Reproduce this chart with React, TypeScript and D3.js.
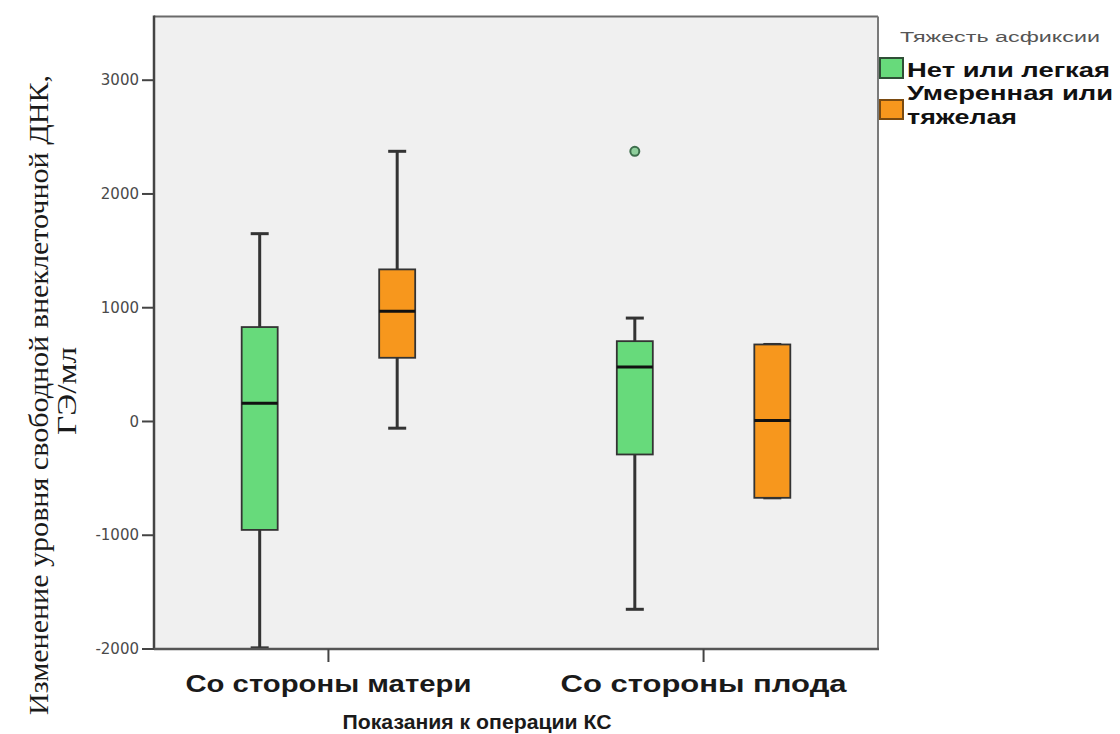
import React from "react";
import * as d3 from "d3";

const categories = ["Со стороны матери", "Со стороны плода"];
const seriesNames = ["Нет или легкая", "Умеренная или тяжелая"];
const seriesColors = ["#67DA7B", "#F7971D"];
const legendLines = [["Нет или легкая"], ["Умеренная или", "тяжелая"]];

// per series, per category
const whiskerMin = [[-1990, -1651], [-59, -671]];
const quart1 = [[-953, -290], [560, -671]];
const medians = [[161, 478], [968, 9]];
const quart3 = [[830, 706], [1337, 677]];
const whiskerMax = [[1651, 909], [2375, 677]];

const outlierCats = ["Со стороны плода"];
const outlierSeries = [0];
const outlierValues = [2375];

const yTicks = [-2000, -1000, 0, 1000, 2000, 3000];
const yTitle1 = "Изменение уровня свободной внеклеточной ДНК,";
const yTitle2 = "ГЭ/мл";
const xTitle = "Показания к операции КС";
const legendTitle = "Тяжесть асфиксии";

const W = 1120, H = 734;
const L = 154, R = 878, T = 16.5, B = 649;

export default function App() {
  const y = d3.scaleLinear().domain([-2000, 3560]).range([B, T]);
  const x = d3.scalePoint<string>().domain(categories).range([L, R]).padding(0.465);
  const sub = d3.scalePoint<string>().domain(seriesNames).range([-68.75, 68.75]);
  const boxW = 36;
  const capW = 18;
  const sans = "'Liberation Sans', Arial, sans-serif";

  const boxes: any[] = [];
  seriesNames.forEach((s, si) => {
    categories.forEach((c, ci) => {
      const cx = (x(c) as number) + (sub(s) as number);
      boxes.push({
        key: s + c, cx, color: seriesColors[si],
        lo: whiskerMin[si][ci], q1: quart1[si][ci], med: medians[si][ci],
        q3: quart3[si][ci], hi: whiskerMax[si][ci],
      });
    });
  });

  return (
    <svg width={W} height={H} style={{ position: "absolute", left: 0, top: 0, background: "#fff" }}
      fontFamily={sans}>
      <rect x={L} y={T} width={R - L} height={B - T} fill="#F0F0F0" />
      {/* frame */}
      <line x1={L} x2={R} y1={T} y2={T} stroke="#6a6a6a" strokeWidth={2} />
      <line x1={R} x2={R} y1={T} y2={B} stroke="#7a7a7a" strokeWidth={2} />

      {/* boxes */}
      {boxes.map((b) => (
        <g key={b.key}>
          <line x1={b.cx} x2={b.cx} y1={y(b.q3)} y2={y(b.hi)} stroke="#333" strokeWidth={3} />
          <line x1={b.cx} x2={b.cx} y1={y(b.q1)} y2={y(b.lo)} stroke="#333" strokeWidth={3} />
          <line x1={b.cx - capW / 2} x2={b.cx + capW / 2} y1={y(b.hi)} y2={y(b.hi)} stroke="#333" strokeWidth={3} />
          <line x1={b.cx - capW / 2} x2={b.cx + capW / 2} y1={y(b.lo)} y2={y(b.lo)} stroke="#333" strokeWidth={3} />
          <rect x={b.cx - boxW / 2} y={y(b.q3)} width={boxW} height={y(b.q1) - y(b.q3)}
            fill={b.color} stroke="#333" strokeWidth={1.8} />
          <line x1={b.cx - boxW / 2} x2={b.cx + boxW / 2} y1={y(b.med)} y2={y(b.med)} stroke="#111" strokeWidth={3} />
        </g>
      ))}

      {/* outliers */}
      {outlierValues.map((v, i) => (
        <circle key={i} cx={(x(outlierCats[i]) as number) + (sub(seriesNames[outlierSeries[i]]) as number)}
          cy={y(v)} r={4.5} fill="#8fcf9c" stroke="#3d6e4c" strokeWidth={2} />
      ))}

      {/* axes */}
      <line x1={L} x2={L} y1={T - 1} y2={B + 1} stroke="#444" strokeWidth={2.5} />
      <line x1={L} x2={R + 1} y1={B} y2={B} stroke="#555" strokeWidth={2.5} />
      {yTicks.map((t) => (
        <g key={t}>
          <line x1={L - 12} x2={L} y1={y(t)} y2={y(t)} stroke="#444" strokeWidth={2} />
          <text x={L - 15} y={y(t)} dy="0.35em" textAnchor="end" fontSize={15} fill="#4a4a4a"
            fontFamily="'DejaVu Sans', sans-serif">{t}</text>
        </g>
      ))}
      {categories.map((c) => (
        <g key={c}>
          <line x1={x(c)} x2={x(c)} y1={B} y2={B + 13} stroke="#444" strokeWidth={2} />
          <text x={x(c)} y={692} textAnchor="middle" fontSize={24} fontWeight="bold" fill="#1a1a1a"
            textLength={286} lengthAdjust="spacingAndGlyphs">{c}</text>
        </g>
      ))}
      <text x={477} y={729} textAnchor="middle" fontSize={21} fontWeight="bold" fill="#1a1a1a"
        textLength={269} lengthAdjust="spacingAndGlyphs">{xTitle}</text>

      {/* y title */}
      <text transform="translate(48,395) rotate(-90)" textAnchor="middle" fontSize={28}
        fontFamily="'Liberation Serif', 'Times New Roman', serif" fill="#1a1a1a"
        textLength={640} lengthAdjust="spacingAndGlyphs">{yTitle1}</text>
      <text transform="translate(76,391) rotate(-90)" textAnchor="middle" fontSize={28}
        fontFamily="'Liberation Serif', 'Times New Roman', serif" fill="#1a1a1a"
        textLength={88} lengthAdjust="spacingAndGlyphs">{yTitle2}</text>

      {/* legend */}
      <text x={900} y={42} fontSize={14} fill="#555" textLength={200} lengthAdjust="spacingAndGlyphs">{legendTitle}</text>
      <rect x={880} y={58} width={23} height={20} fill={seriesColors[0]} stroke="#2f4f36" strokeWidth={2} />
      <text x={907} y={77} fontSize={21} fontWeight="bold" fill="#111" textLength={203} lengthAdjust="spacingAndGlyphs">{legendLines[0][0]}</text>
      <rect x={880} y={100} width={23} height={19} fill={seriesColors[1]} stroke="#7a4a10" strokeWidth={2} />
      <text x={907} y={100} fontSize={21} fontWeight="bold" fill="#111" textLength={206} lengthAdjust="spacingAndGlyphs">{legendLines[1][0]}</text>
      <text x={907} y={124} fontSize={21} fontWeight="bold" fill="#111" textLength={110} lengthAdjust="spacingAndGlyphs">{legendLines[1][1]}</text>
    </svg>
  );
}
